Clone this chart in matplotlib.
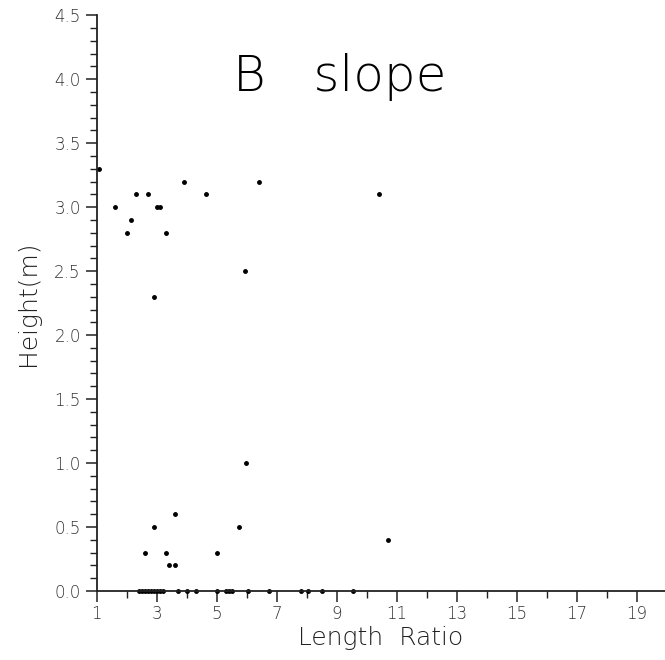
import matplotlib
matplotlib.use("Agg")
import matplotlib.pyplot as plt
from matplotlib.ticker import MultipleLocator

# Length ratio vs height, B slope
ratio = [1.08, 1.6, 2.0, 2.15, 2.3, 2.7, 2.9, 3.0, 3.1, 3.3, 3.9, 4.65,
         5.95, 6.4, 10.4, 5.97, 2.6, 2.9, 3.3, 3.4, 3.6, 3.6, 5.0, 5.75, 10.7]
height = [3.3, 3.0, 2.8, 2.9, 3.1, 3.1, 2.3, 3.0, 3.0, 2.8, 3.2, 3.1,
          2.5, 3.2, 3.1, 1.0, 0.3, 0.5, 0.3, 0.2, 0.2, 0.6, 0.3, 0.5, 0.4]

# points lying on the zero line
ratio_zero = [2.4, 2.5, 2.6, 2.7, 2.8, 2.9, 3.0, 3.1, 3.2, 3.7, 4.0, 4.3,
              5.0, 5.3, 5.4, 5.5, 6.05, 6.75, 7.8, 8.05, 8.5, 9.55]
height_zero = [0.0] * len(ratio_zero)

xticks = [1, 3, 5, 7, 9, 11, 13, 15, 17, 19]
yticks = [0.0, 0.5, 1.0, 1.5, 2.0, 2.5, 3.0, 3.5, 4.0, 4.5]

plt.rcParams['font.family'] = ['DejaVu Sans']

fig = plt.figure(figsize=(6.65, 6.6), dpi=100)
ax = fig.add_axes([0.1454, 0.1045, 0.8546, 0.8725])

ax.plot(ratio, height, 'o', color='black', ms=2.5, clip_on=False)
ax.plot(ratio_zero, height_zero, 'o', color='black', ms=2.5, clip_on=False)

ax.set_xlim(1, 19.95)
ax.set_ylim(0, 4.5)
ax.set_xticks(xticks)
ax.set_yticks(yticks)
ax.set_yticklabels([f"{v:.1f}" for v in yticks])
ax.xaxis.set_minor_locator(MultipleLocator(1))
ax.yaxis.set_minor_locator(MultipleLocator(0.1))

for side in ['top', 'right']:
    ax.spines[side].set_visible(False)
for side in ['left', 'bottom']:
    ax.spines[side].set_linewidth(1.3)
    ax.spines[side].set_color('#222222')

ax.tick_params(axis='both', which='major', direction='out', length=8,
               width=1.1, labelsize=12, colors='#222222', labelcolor='#333333')
ax.tick_params(axis='x', which='major', pad=2)
ax.tick_params(axis='both', which='minor', direction='out', length=5,
               width=1.0, colors='#222222')
for lab in ax.get_xticklabels() + ax.get_yticklabels():
    lab.set_fontweight(200)

ax.set_xlabel('Length  Ratio', fontsize=18, fontweight=200, color='#222222',
              labelpad=2)
ax.set_ylabel('Height(m)', fontsize=18, fontweight=200, color='#222222',
              labelpad=10)

ax.text(0.428, 0.892, 'B   slope', transform=ax.transAxes, fontsize=36,
        fontweight=200, ha='center', va='center', color='black')

fig.savefig('out.png', dpi=100)
